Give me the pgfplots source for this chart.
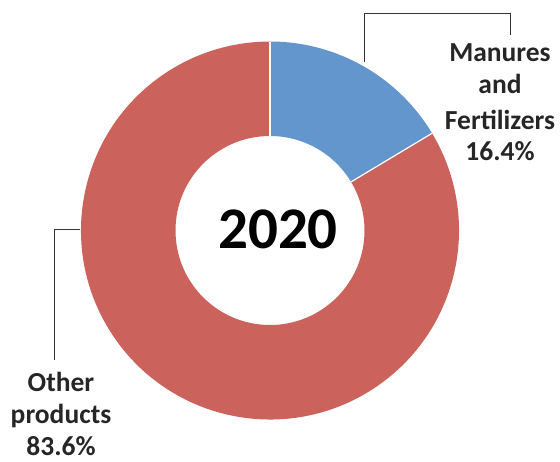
\documentclass[border=0pt]{standalone}
\usepackage{fontspec}
\setmainfont{Carlito}
\usepackage{pgfplots}
\usepackage{pgfplotstable}
\pgfplotsset{compat=1.18}
\definecolor{manblue}{RGB}{98,150,204}
\definecolor{othred}{RGB}{203,99,92}

% shares in percent, clockwise from 12 o'clock
\pgfplotstableread{
label share
Manures 16.4
Other   83.6
}\sharetable

\pgfplotstablegetelem{0}{share}\of\sharetable
\let\shareA\pgfplotsretval
\pgfmathsetmacro\angA{90-3.6*\shareA}
\pgfmathsetmacro\angEnd{\angA-3.6*(100-\shareA)}

\def\cx{270}
\def\cy{230.5}
\def\rout{189pt}
\def\rin{94.5pt}

\begin{document}
\begin{tikzpicture}
\begin{axis}[
  scale only axis,
  width=560pt, height=461pt,
  xmin=0, xmax=560, ymin=0, ymax=461,
  y dir=reverse,
  hide axis,
  clip=false,
]
\path (axis cs:0,0) rectangle (axis cs:560,461);
% slices
\fill[manblue] (axis cs:\cx,\cy) ++(90:\rout)
  arc[start angle=90, end angle=\angA, radius=\rout]
  -- ++(\angA+180:\rout-\rin)
  arc[start angle=\angA, end angle=90, radius=\rin] -- cycle;
\fill[othred] (axis cs:\cx,\cy) ++(\angA:\rout)
  arc[start angle=\angA, end angle=\angEnd, radius=\rout]
  -- ++(\angEnd+180:\rout-\rin)
  arc[start angle=\angEnd, end angle=\angA, radius=\rin] -- cycle;
% slice borders
\draw[white, line width=1.2pt] (axis cs:\cx,\cy) ++(90:\rin) -- ++(90:\rout-\rin);
\draw[white, line width=1.2pt] (axis cs:\cx,\cy) ++(\angA:\rin) -- ++(\angA:\rout-\rin);
% centre text
\node[anchor=base, font=\fontsize{59}{70}\selectfont\bfseries] at (axis cs:278,248) {2020};
% leader lines
\draw[black!80, line width=0.8pt] (axis cs:364,62) -- (axis cs:364,13) -- (axis cs:510,13) -- (axis cs:510,35);
\draw[black!80, line width=0.8pt] (axis cs:80,229) -- (axis cs:54,229) -- (axis cs:54,360);
% labels
\begin{scope}[every node/.style={anchor=base, font=\fontsize{27.5}{33}\selectfont\bfseries, text=black!85, inner sep=0pt}]
\node at (axis cs:500,61.5) {Manures};
\node at (axis cs:500,93.5) {and};
\node at (axis cs:500,129) {Fertilizers};
\node at (axis cs:500,160) {16.4\%};
\node at (axis cs:61,391) {Other};
\node at (axis cs:61,423) {products};
\node at (axis cs:61,455) {83.6\%};
\end{scope}
\end{axis}
\end{tikzpicture}
\end{document}
